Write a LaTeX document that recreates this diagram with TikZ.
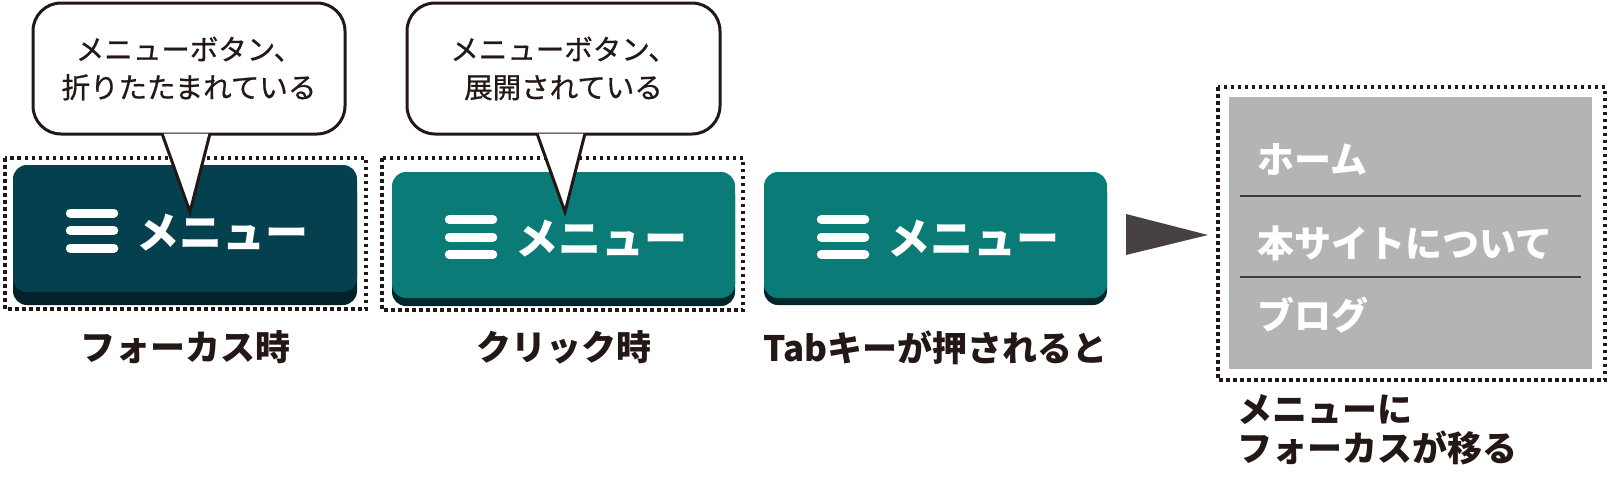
\documentclass[tikz,border=0pt]{standalone}
\usepackage{fontspec}
\setmainfont{Noto Sans CJK JP}
\usepackage{tikz}
\usetikzlibrary{positioning,shadows}

\definecolor{focusteal}{HTML}{05404F}
\definecolor{focusshade}{HTML}{02212A}
\definecolor{menuteal}{HTML}{0B7B78}
\definecolor{menushade}{HTML}{03262C}
\definecolor{panelgray}{HTML}{B4B4B4}
\definecolor{ink}{HTML}{231815}
\definecolor{arrowgray}{HTML}{474241}

\begin{document}
\begin{tikzpicture}[x=1pt, y=-1pt,
    menubutton/.style={rounded corners=14pt, inner sep=0pt, minimum width=343pt, minimum height=126pt},
    focusring/.style={draw=ink, line width=3.5pt, dash pattern=on 3.5pt off 3.5pt},
    bubble/.style={draw=ink, line width=3pt, fill=white, rounded corners=28pt, minimum width=312pt, minimum height=131pt, align=center, inner sep=0pt, font=\fontsize{28.5pt}{38pt}\selectfont\addfontfeatures{FakeBold=0.7}, text=ink},
    caption/.style={inner sep=0pt, text=ink, font=\fontsize{35pt}{39pt}\selectfont\bfseries},
    menuitem/.style={anchor=west, inner sep=0pt, text=white, font=\fontsize{37pt}{37pt}\selectfont\bfseries}]

    \useasboundingbox (0,0) rectangle (1611,479);

    % focus rings
    \draw[focusring] (5,158) rectangle (366,309);
    \draw[focusring] (382,158) rectangle (743,310);
    \draw[focusring] (1218,87) rectangle (1605,380);

    \node[menubutton, minimum width=344pt, minimum height=127pt, fill=focusteal,
          general shadow={fill=focusshade, shadow yshift=-13pt}] (btn1) at (185,228.5) {};
    \node[menubutton, fill=menuteal,
          general shadow={fill=menushade, shadow yshift=-8pt}] (btn2) at (563.5,235) {};
    \node[menubutton, fill=menuteal,
          general shadow={fill=menushade, shadow yshift=-7pt}] (btn3) at (935.5,235) {};

    % hamburger + label
    \foreach \b in {btn1,btn2,btn3} {
        \foreach \dy in {15.5,-2,-19.5}
            \draw[white, line width=9pt, line cap=round]
                ([xshift=57.5pt, yshift=\dy pt]\b.west) -- ([xshift=101pt, yshift=\dy pt]\b.west);
        \node[anchor=west, inner sep=0pt, text=white, font=\fontsize{43pt}{43pt}\selectfont\bfseries]
            at ([xshift=123pt, yshift=-4pt]\b.west) {メニュー};
    }

    \node[caption, below=38pt of btn1] (cap1) {フォーカス時};
    \node[caption, below=32pt of btn2] (cap2) {クリック時};
    \node[caption, below=32pt of btn3] (cap3) {Tabキーが押されると};

    % speech bubbles
    \node[bubble] (tip1) at (189,68.5) {メニューボタン、\\折りたたまれている};
    \node[bubble, minimum width=313pt] (tip2) at (563.5,68.5) {メニューボタン、\\展開されている};
    \coordinate (tip1end) at (190,212);
    \coordinate (tip2end) at (565,212);
    \path[draw=ink, fill=white, line width=3pt]
        ([xshift=-27pt, yshift=2pt]tip1.south) -- (tip1end) -- ([xshift=21pt, yshift=2pt]tip1.south);
    \path[draw=ink, fill=white, line width=3pt]
        ([xshift=-26.5pt, yshift=2pt]tip2.south) -- (tip2end) -- ([xshift=21.5pt, yshift=2pt]tip2.south);

    \fill[arrowgray] (1126,214) -- (1208,235) -- (1126,255) -- cycle;

    % opened menu
    \fill[panelgray] (1229,97) rectangle (1592,369);
    \draw[ink!85, line width=2.5pt] (1240,196) -- (1581,196);
    \draw[ink!85, line width=2.5pt] (1240,277) -- (1581,277);
    \node[menuitem] (home) at (1257,160) {ホーム};
    \node[menuitem] (about) at (1257,243) {本サイトについて};
    \node[menuitem] (blog) at (1257,315) {ブログ};

    \node[caption, anchor=north west, align=left] (cap4) at (1237,394) {メニューに\\フォーカスが移る};

\end{tikzpicture}
\end{document}
